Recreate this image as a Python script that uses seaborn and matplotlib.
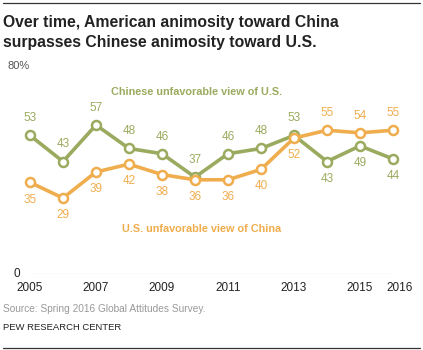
import numpy as np
import pandas as pd
import matplotlib.pyplot as plt
import seaborn as sns

years = [2005, 2006, 2007, 2008, 2009, 2010, 2011, 2012, 2013, 2014, 2015, 2016]
china_view_us = [53, 43, 57, 48, 46, 37, 46, 48, 53, 43, 49, 44]
us_view_china = [35, 29, 39, 42, 38, 36, 36, 40, 52, 55, 54, 55]
# label placement: 1 = above point, -1 = below point
china_pos = [1, 1, 1, 1, 1, 1, 1, 1, 1, -1, -1, -1]
us_pos = [-1, -1, -1, -1, -1, -1, -1, -1, -1, 1, 1, 1]
tick_years = [2005, 2007, 2009, 2011, 2013, 2015, 2016]

green = "#9aab5f"
orange = "#f0ad4e"

df = pd.DataFrame({
    "year": years * 2,
    "value": china_view_us + us_view_china,
    "series": ["china"] * len(years) + ["us"] * len(years),
})

sns.set_style("white")
plt.rcParams['font.family'] = ['Liberation Sans', 'DejaVu Sans']

fig = plt.figure(figsize=(4.23, 3.5), dpi=100)
ax = fig.add_axes([30 / 423, 1 - 273.7 / 350, 363 / 423, 208.7 / 350])

sns.lineplot(data=df, x="year", y="value", hue="series",
             palette={"china": green, "us": orange}, linewidth=2.6,
             marker="o", markersize=6.5, markerfacecolor="white",
             markeredgewidth=1.8, legend=False, ax=ax)
# marker edge color per series
for line, c in zip(ax.lines, [green, orange]):
    line.set_markeredgecolor(c)
    line.set_clip_on(False)

ax.set_xlim(2005, 2016)
ax.set_ylim(0, 80)
ax.axhline(0, color="#aaaaaa", lw=0.8)
for s in ax.spines.values():
    s.set_visible(False)
ax.set_xticks([])
ax.set_yticks([])
ax.set_xlabel("")
ax.set_ylabel("")

for x, v, p in zip(years, china_view_us, china_pos):
    ax.annotate(str(v), (x, v), xytext=(0, 8 * p), textcoords="offset points",
                ha="center", va="bottom" if p > 0 else "top",
                color=green, fontsize=8.5)
for x, v, p in zip(years, us_view_china, us_pos):
    ax.annotate(str(v), (x, v), xytext=(0, 8 * p), textcoords="offset points",
                ha="center", va="bottom" if p > 0 else "top",
                color=orange, fontsize=8.5)

ax.text(2010.05, 69.5, "Chinese unfavorable view of U.S.", ha="center", va="center",
        color=green, fontsize=7.8, fontweight="bold")
ax.text(2010.2, 17, "U.S. unfavorable view of China", ha="center", va="center",
        color=orange, fontsize=7.8, fontweight="bold")

for y in tick_years:
    xx = y + 0.2 if y == 2016 else y
    ax.text(xx, -5.5, str(y), ha="center", va="center", fontsize=8.5, color="#222222")
ax.text(2004.7, 0, "0", ha="right", va="center", fontsize=8.5, color="#222222")
fig.text(7 / 423, 1 - 66 / 350, "80%", ha="left", va="center", fontsize=8, color="#555555")

fig.text(3 / 423, 1 - 22 / 350, "Over time, American animosity toward China",
         ha="left", va="center", fontsize=11.3, fontweight="bold", color="#222222")
fig.text(3 / 423, 1 - 42 / 350, "surpasses Chinese animosity toward U.S.",
         ha="left", va="center", fontsize=11.3, fontweight="bold", color="#222222")
fig.text(3 / 423, 1 - 309 / 350, "Source: Spring 2016 Global Attitudes Survey.",
         ha="left", va="center", fontsize=7.3, color="#999999")
fig.text(3 / 423, 1 - 328 / 350, "PEW RESEARCH CENTER",
         ha="left", va="center", fontsize=6.8, color="#222222")

fig.add_artist(plt.Line2D([3 / 423, 420 / 423], [1 - 3 / 350, 1 - 3 / 350], color="#333333", lw=0.9))
fig.add_artist(plt.Line2D([3 / 423, 420 / 423], [1 - 348 / 350, 1 - 348 / 350], color="#333333", lw=0.9))

fig.savefig("out.png", dpi=100)
